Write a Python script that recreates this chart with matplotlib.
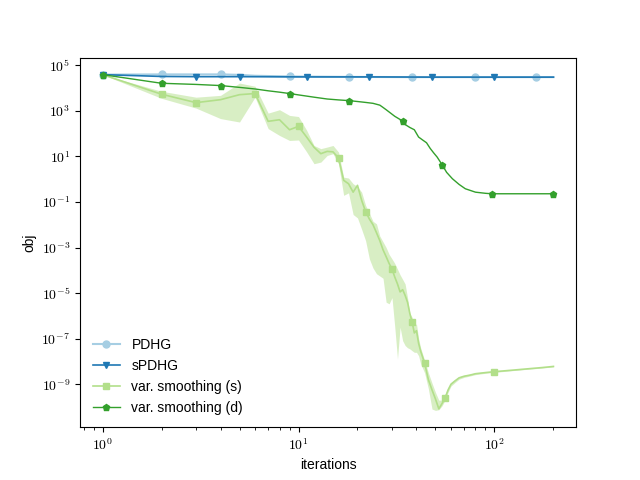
import numpy as np
import matplotlib
matplotlib.use("Agg")
import matplotlib.pyplot as plt
from matplotlib.ticker import FuncFormatter

plt.rcParams['mathtext.fontset'] = 'cm'
plt.rcParams['font.family'] = ['Liberation Sans', 'DejaVu Sans']

# ---- data (log10 of objective) ----
pdhg_x = [1, 2, 4, 5, 6, 9, 18, 38, 80, 162, 200]
pdhg_y = [4.59, 4.60, 4.60, 4.58, 4.54, 4.51, 4.49, 4.48, 4.48, 4.48, 4.48]
pdhg_marks = [1, 2, 4, 9, 18, 38, 80, 162]

spdhg_x = [1, 2, 3, 5, 11, 20, 23, 48, 100, 200]
spdhg_y = [4.59, 4.51, 4.50, 4.50, 4.49, 4.49, 4.49, 4.48, 4.48, 4.48]
spdhg_marks = [1, 3, 5, 11, 23, 48, 100]

vs_s_x = [1, 2, 3, 4, 5, 6, 7, 8, 9, 10, 11, 12, 13, 14, 15, 16, 17, 18, 19, 20,
          21, 22, 23, 24, 25, 26, 27, 28, 29, 30, 31, 32, 33, 34, 35, 36, 37, 38,
          39, 40, 41, 42, 44, 46, 48, 50, 52, 54, 56, 58, 60, 63, 66, 70, 75, 80,
          90, 100, 125, 150, 175, 200]
vs_s_y = [4.59, 3.73, 3.36, 3.49, 3.71, 3.76, 2.54, 2.61, 2.17, 2.32, 1.85, 1.40,
          1.12, 1.22, 1.20, 0.93, -0.05, -0.20, -0.57, -0.27, -0.93, -1.42, -1.75,
          -2.00, -2.35, -2.70, -3.10, -3.40, -3.70, -3.94, -4.30, -4.60, -4.95,
          -4.85, -5.10, -5.40, -5.90, -6.27, -6.75, -6.65, -7.20, -7.55, -8.07,
          -8.80, -9.25, -9.65, -10.08, -9.85, -9.60, -9.25, -9.00, -8.85, -8.72,
          -8.65, -8.60, -8.54, -8.49, -8.45, -8.38, -8.32, -8.27, -8.22]
vs_s_lo = [4.59, 3.55, 3.12, 2.66, 2.51, 3.60, 2.22, 1.92, 1.70, 1.72, 1.20, 0.68,
           0.75, 1.04, 1.12, 0.68, -0.71, -0.60, -1.55, -1.70, -2.20, -2.70, -3.50,
           -3.90, -4.15, -4.25, -4.35, -5.40, -5.47, -5.20, -6.50, -7.89, -6.50,
           -7.09, -7.30, -7.40, -7.45, -7.53, -7.60, -7.60, -7.75, -8.10, -8.50,
           -9.20, -10.09, -10.15, -10.12, -9.95, -9.70, -9.35, -9.08, -8.92, -8.78,
           -8.70, -8.64, -8.58, -8.52, -8.48, -8.40, -8.34, -8.29, -8.24]
vs_s_hi = [4.59, 3.86, 3.60, 3.68, 4.22, 4.08, 2.90, 3.05, 2.80, 2.75, 2.15, 1.48,
           1.34, 1.41, 1.48, 1.19, 0.09, 0.05, -0.20, -0.32, -0.57, -1.15, -1.50,
           -1.85, -1.96, -2.50, -2.75, -3.00, -3.30, -3.50, -3.70, -3.95, -4.20,
           -4.40, -4.60, -5.20, -5.90, -6.06, -6.43, -6.35, -7.00, -7.40, -7.95,
           -8.50, -8.95, -9.36, -9.70, -9.70, -9.45, -9.15, -8.93, -8.80, -8.67,
           -8.61, -8.56, -8.50, -8.46, -8.43, -8.36, -8.30, -8.25, -8.20]
vs_s_marks = [2, 3, 6, 10, 16, 22, 30, 38, 44, 56, 100]

vs_d_x = [1, 2, 3, 4, 5, 6, 7, 8, 9, 10, 12, 14, 16, 18, 20, 22, 24, 26, 27, 28,
          29, 31, 33, 34, 35, 37, 39, 41, 43, 45, 47, 49, 51, 54, 57, 61, 66, 71,
          80, 90, 97, 150, 200]
vs_d_y = [4.59, 4.21, 4.16, 4.11, 4.03, 3.96, 3.88, 3.82, 3.76, 3.70, 3.60, 3.52,
          3.48, 3.45, 3.41, 3.37, 3.33, 3.25, 3.15, 3.05, 2.95, 2.76, 2.62, 2.55,
          2.40, 2.27, 2.17, 1.85, 1.72, 1.60, 1.35, 1.15, 0.97, 0.64, 0.30, 0.02,
          -0.23, -0.42, -0.57, -0.62, -0.64, -0.64, -0.64]
vs_d_marks = [1, 2, 4, 9, 18, 34, 54, 97, 200]

colors = ['#a6cee3', '#1f78b4', '#b2df8a', '#33a02c']

def to_val(a):
    return 10.0 ** np.asarray(a, dtype=float)

def idx(xs, marks):
    return [xs.index(m) for m in marks]

def pow_fmt(v, pos):
    if v <= 0:
        return ''
    e = np.log10(v)
    if abs(e - round(e)) > 1e-6:
        return ''
    return r'$10^{%d}$' % int(round(e))

fig, ax = plt.subplots(figsize=(6.4, 4.8), dpi=100)

ax.fill_between(vs_s_x, to_val(vs_s_lo), to_val(vs_s_hi), color=colors[2],
                alpha=0.5, linewidth=0)

ax.plot(pdhg_x, to_val(pdhg_y), color=colors[0], marker='o', ms=5, lw=1.5,
        markevery=idx(pdhg_x, pdhg_marks), label='PDHG')
ax.plot(spdhg_x, to_val(spdhg_y), color=colors[1], marker='v', ms=5, lw=1.2,
        markevery=idx(spdhg_x, spdhg_marks), label='sPDHG')
ax.plot(vs_s_x, to_val(vs_s_y), color=colors[2], marker='s', ms=5, lw=1.2,
        markevery=idx(vs_s_x, vs_s_marks), label='var. smoothing (s)')
ax.plot(vs_d_x, to_val(vs_d_y), color=colors[3], marker='p', ms=5, lw=1.0,
        markevery=idx(vs_d_x, vs_d_marks), label='var. smoothing (d)')

ax.set_xscale('log')
ax.set_yscale('log')
ax.xaxis.set_major_formatter(FuncFormatter(pow_fmt))
ax.yaxis.set_major_formatter(FuncFormatter(pow_fmt))
ax.set_xlabel('iterations')
ax.set_ylabel('obj')
ax.legend(loc='lower left', frameon=False)

fig.savefig('out.png', dpi=100)
